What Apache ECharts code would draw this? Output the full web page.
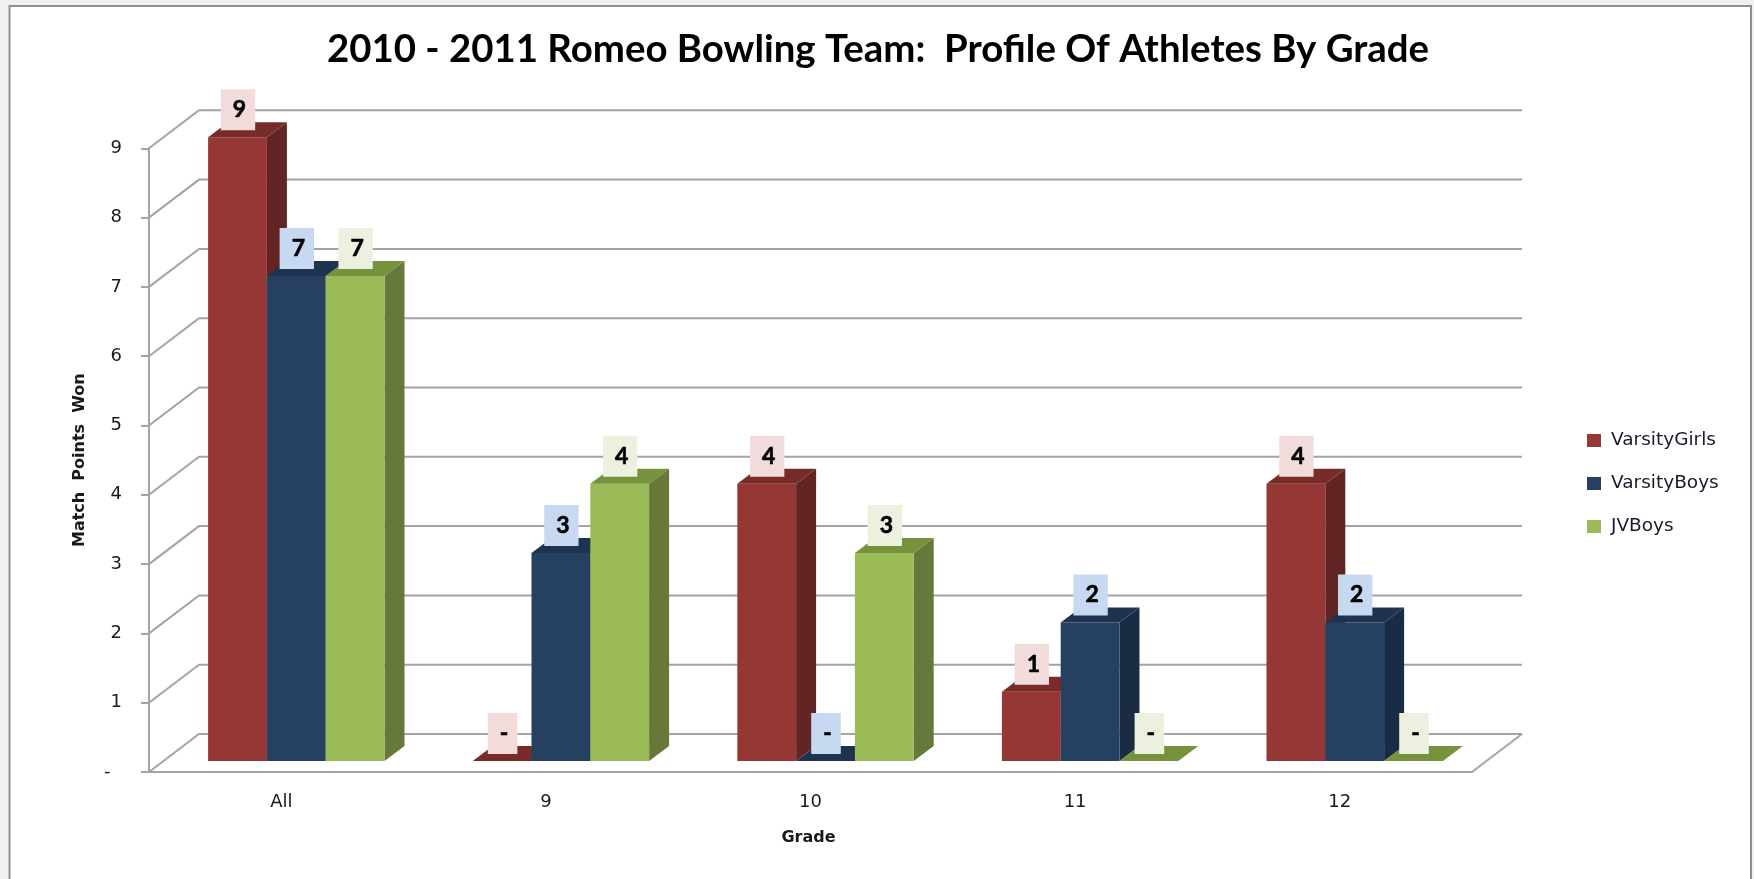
<!DOCTYPE html>
<html>
<head>
<meta charset="utf-8">
<style>html,body{margin:0;padding:0;background:#fff}#c{width:1754px;height:879px}</style>
<script src="https://cdn.jsdelivr.net/npm/echarts@6/dist/echarts.min.js"></script>
</head>
<body>
<div id="c"></div>
<script>
var categories = ['All', '9', '10', '11', '12'];
var yTicks = [0, 1, 2, 3, 4, 5, 6, 7, 8, 9];
var varsityGirls = [9, 0, 4, 1, 4];
var varsityBoys = [7, 3, 0, 2, 2];
var jvBoys = [7, 4, 3, 0, 0];

var BAR_W = 58.8, OFF_X = 15, OFF_Y = -11, DEP_X = 20, DEP_Y = -15, WALL_X = 50, WALL_Y = -38;
var GRID = '#a4a4a4';

function poly(points, fill, z2) {
  return { type: 'polygon', shape: { points: points }, style: { fill: fill }, z2: z2 || 1, silent: true };
}

function barRenderer(seriesIndex, front, top, side, labelBg) {
  return function (params, api) {
    var val = api.value(1);
    var c = api.coord([api.value(0), val]);
    var b = api.coord([api.value(0), 0]);
    var x0 = c[0] + OFF_X + (seriesIndex - 1.5) * BAR_W;
    var x1 = x0 + BAR_W;
    var yT = c[1] + OFF_Y;
    var yB = b[1] + OFF_Y;
    var children = [];
    if (val > 0) {
      children.push(poly([[x1, yT], [x1 + DEP_X, yT + DEP_Y], [x1 + DEP_X, yB + DEP_Y], [x1, yB]], side));
      children.push(poly([[x0, yT], [x1, yT], [x1, yB], [x0, yB]], front));
    }
    children.push(poly([[x0, yT], [x1, yT], [x1 + DEP_X, yT + DEP_Y], [x0 + DEP_X, yT + DEP_Y]], top));
    children.push({
      type: 'text', z2: 100, silent: true,
      x: (x0 + x1) / 2 + 0.5, y: yT - 27.5,
      style: {
        text: val === 0 ? '-' : String(val),
        fill: '#000', font: 'bold 23px Lato',
        stroke: '#000', lineWidth: 0.6,
        align: 'center', verticalAlign: 'middle',
        backgroundColor: labelBg,
        padding: [11, 9, 10, 12],
        lineHeight: 20
      }
    });
    return { type: 'group', children: children };
  };
}

function wallRenderer(params, api) {
  var cs = params.coordSys;
  var y = api.coord([0, api.value(0)])[1];
  var left = cs.x, right = cs.x + cs.width;
  var lineStyle = { stroke: GRID, lineWidth: 2, fill: 'none' };
  var pts = [[left, y], [left + WALL_X, y + WALL_Y], [right + WALL_X, y + WALL_Y]];
  var children = [{ type: 'polyline', shape: { points: pts }, style: lineStyle, silent: true }];
  if (api.value(0) === 0) {
    children.push({ type: 'polyline', shape: { points: [[right, y], [right + WALL_X, y + WALL_Y]] }, style: lineStyle, silent: true });
  }
  return { type: 'group', children: children };
}

function barSeries(name, values, idx, front, top, side, labelBg) {
  return {
    name: name, type: 'custom', coordinateSystem: 'cartesian2d',
    itemStyle: { color: front },
    encode: { x: 0, y: 1 },
    data: values.map(function (v, i) { return [i, v]; }),
    renderItem: barRenderer(idx, front, top, side, labelBg)
  };
}

var chart = echarts.init(document.getElementById('c'), null, { renderer: 'canvas' });
var font = '"DejaVu Sans"';
chart.setOption({
  animation: false,
  backgroundColor: '#f0f0f0',
  graphic: [{
    type: 'rect', z: -1, silent: true,
    shape: { x: 9.5, y: 6, width: 1741.5, height: 900 },
    style: { fill: '#fff', stroke: '#8e8e8e', lineWidth: 2 }
  }],
  title: {
    text: '2010 - 2011 Romeo Bowling Team:  Profile Of Athletes By Grade',
    left: 873, top: 26, textAlign: 'center',
    textStyle: { fontFamily: 'Lato', fontWeight: 'bold', fontSize: 38.4, color: '#000' }
  },
  legend: {
    orient: 'vertical', left: 1582, top: 426,
    itemWidth: 14, itemHeight: 13, itemGap: 24,
    icon: 'rect',
    data: ['VarsityGirls', 'VarsityBoys', 'JVBoys'],
    selectedMode: false,
    textStyle: { fontFamily: font, fontSize: 18.5, color: '#1a1a2a', padding: [0, 0, 0, 5] }
  },
  grid: { left: 149, right: 282, top: 148.3, bottom: 107, containLabel: false },
  xAxis: {
    type: 'category', data: categories,
    name: 'Grade', nameLocation: 'middle', nameGap: 58,
    nameTextStyle: { fontFamily: font, fontWeight: 'bold', fontSize: 16, color: '#1a1a1a', padding: [0, 4, 0, 0] },
    axisLine: { show: true, lineStyle: { color: GRID, width: 2 } },
    axisTick: { show: false },
    axisLabel: { margin: 21, fontFamily: font, fontSize: 18, color: '#1a1a1a' },
    splitLine: { show: false }
  },
  yAxis: {
    type: 'value', min: 0, max: 9, interval: 1,
    name: 'Match  Points  Won', nameLocation: 'middle', nameGap: 61, nameRotate: 90,
    nameTextStyle: { fontFamily: font, fontWeight: 'bold', fontSize: 16, color: '#1a1a1a' },
    axisLine: { show: true, lineStyle: { color: GRID, width: 2 } },
    axisTick: { show: true, length: 8, lineStyle: { color: GRID, width: 2 } },
    axisLabel: {
      margin: 27, fontFamily: font, fontSize: 18, color: '#1a1a1a',
      formatter: function (v) { return v === 0 ? '-  ' : String(v); }
    },
    splitLine: { show: false }
  },
  series: [
    {
      name: 'wall', type: 'custom', coordinateSystem: 'cartesian2d', z: 1, silent: true,
      encode: { y: 0 }, data: yTicks.map(function (t) { return [t]; }), renderItem: wallRenderer
    },
    barSeries('VarsityGirls', varsityGirls, 0, '#953735', '#772c2a', '#632523', '#f2dcdb'),
    barSeries('VarsityBoys', varsityBoys, 1, '#254061', '#1e3350', '#1a2c44', '#c6d9f0'),
    barSeries('JVBoys', jvBoys, 2, '#9bbb59', '#76923c', '#66793a', '#ebf1de')
  ]
});
</script>
</body>
</html>
